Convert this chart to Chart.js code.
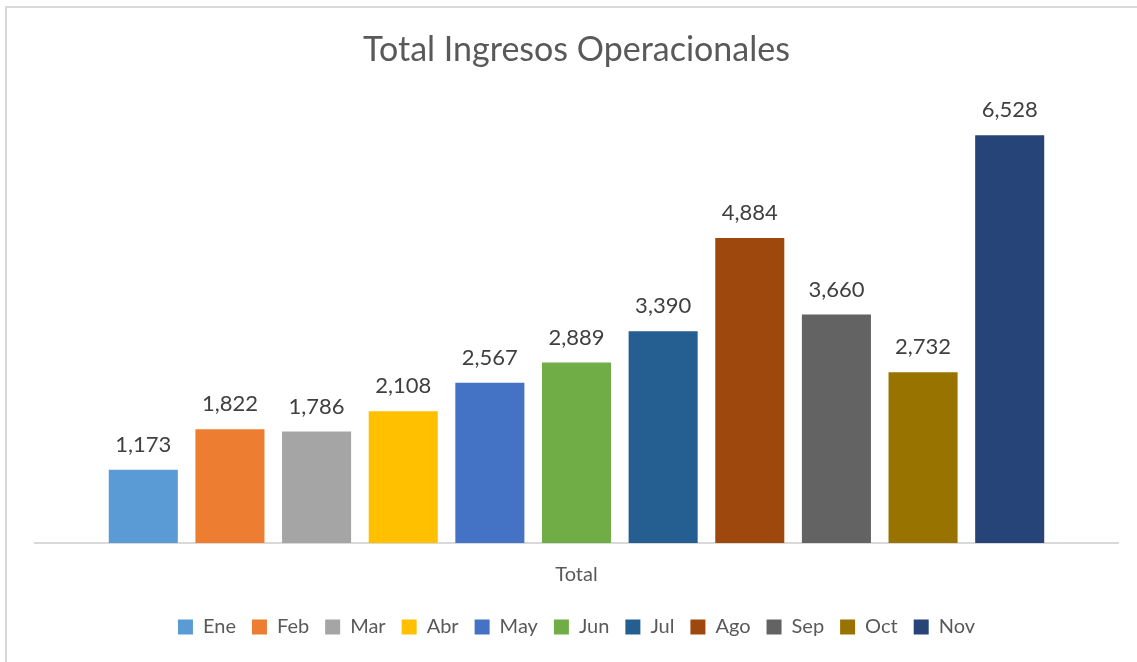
<!DOCTYPE html>
<html>
<head>
<meta charset="utf-8">
<script src="https://cdn.jsdelivr.net/npm/chart.js@4"></script>
<style>
  body { margin: 0; background: #fff; }
  #wrap { position: relative; width: 1137px; height: 662px; overflow: hidden; }
  #frame { position: absolute; left: 5px; top: 6px; width: 1300px; height: 800px;
           border-left: 2px solid #d9d9d9; border-top: 2px solid #d9d9d9; }
  #chart { position: absolute; left: 0; top: 0; }
</style>
</head>
<body>
<div id="wrap">
  <div id="frame"></div>
  <canvas id="chart" width="1137" height="662"></canvas>
</div>
<script>
// data
const categories = ['Total'];
const months = ['Ene', 'Feb', 'Mar', 'Abr', 'May', 'Jun', 'Jul', 'Ago', 'Sep', 'Oct', 'Nov'];
const values = [1173, 1822, 1786, 2108, 2567, 2889, 3390, 4884, 3660, 2732, 6528];
const colors = ['#5B9BD5', '#ED7D31', '#A5A5A5', '#FFC000', '#4472C4', '#70AD47',
                '#255E91', '#9E480E', '#636363', '#997300', '#264478'];

const fontFamily = 'Lato, "Liberation Sans", sans-serif';

// value labels above each bar
const barLabels = {
  id: 'barLabels',
  afterDatasetsDraw(chart) {
    const ctx = chart.ctx;
    ctx.save();
    ctx.font = '22px ' + fontFamily;
    ctx.fillStyle = '#404040';
    ctx.textAlign = 'center';
    ctx.textBaseline = 'middle';
    chart.data.datasets.forEach((ds, i) => {
      const meta = chart.getDatasetMeta(i);
      meta.data.forEach((bar, j) => {
        ctx.fillText(ds.data[j].toLocaleString('en-US'), bar.x, bar.y - 25);
      });
    });
    ctx.restore();
  }
};

const datasets = months.map((m, i) => ({
  label: m,
  data: [values[i]],
  backgroundColor: colors[i],
  categoryPercentage: 0.88,
  barPercentage: 0.797
}));

new Chart(document.getElementById('chart').getContext('2d'), {
  type: 'bar',
  data: { labels: categories, datasets: datasets },
  options: {
    responsive: false,
    animation: false,
    layout: { padding: { left: 35, right: 19, top: 0, bottom: 15 } },
    plugins: {
      title: {
        display: true,
        text: 'Total Ingresos Operacionales',
        color: '#595959',
        font: { family: fontFamily, size: 34, weight: 'normal' },
        padding: { top: 30, bottom: 35 }
      },
      legend: {
        position: 'bottom',
        labels: {
          color: '#595959',
          font: { family: fontFamily, size: 20 },
          boxWidth: 15,
          boxHeight: 15,
          padding: 16
        }
      },
      tooltip: { enabled: false }
    },
    scales: {
      x: {
        grid: { display: false },
        border: { display: true, color: '#d9d9d9', width: 2 },
        ticks: { display: false },
        title: {
          display: true,
          text: 'Total',
          color: '#595959',
          font: { family: fontFamily, size: 20 },
          padding: { top: 12, bottom: 14 }
        }
      },
      y: { display: false, min: 0, max: 7000 }
    }
  },
  plugins: [barLabels]
});
</script>
</body>
</html>
